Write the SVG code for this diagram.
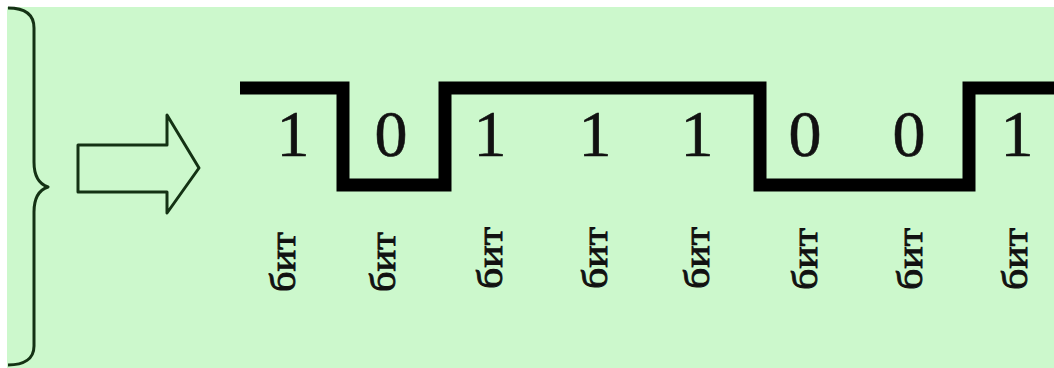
<svg xmlns="http://www.w3.org/2000/svg" width="1054" height="368" viewBox="0 0 1054 368">
<style>
.outline{fill:none;stroke:#143214;stroke-width:3;stroke-linejoin:round}
.signal{fill:none;stroke:#000;stroke-width:13;stroke-linejoin:miter}
.digit{font-family:"Liberation Serif",serif;font-size:66px;fill:#111;stroke:#111;stroke-width:0.6;text-anchor:middle}
.bit{font-family:"Liberation Serif",serif;font-size:36px;fill:#111;stroke:#111;stroke-width:0.9;text-anchor:middle}
</style>
<rect width="1054" height="368" fill="#ffffff"/>
<rect x="7" y="7" width="1047" height="361" fill="#ccf8cc"/>
<g id="brace">
<path class="outline" d="M 8 8 C 24 8 34 14 34 28 L 34 162 C 34 176 39 184 48 187 C 39 190 34 198 34 212 L 34 346 C 34 359 24 365 8 365"/>
</g>
<g id="arrow">
<path class="outline" d="M 78 145 L 167 145 L 167 115 L 199 168 L 167 213 L 167 192 L 78 192 Z"/>
</g>
<g id="signal">
<path class="signal" d="M 240 88 L 343 88 L 343 185 L 445 185 L 445 88 L 760 88 L 760 185 L 969 185 L 969 88 L 1054 88"/>
</g>
<g id="digits">
<text class="digit" x="293" y="156">1</text>
<text class="digit" x="391" y="156">0</text>
<text class="digit" x="490" y="156">1</text>
<text class="digit" x="595" y="156">1</text>
<text class="digit" x="697" y="156">1</text>
<text class="digit" x="805" y="156">0</text>
<text class="digit" x="909" y="156">0</text>
<text class="digit" x="1017" y="156">1</text>
</g>
<g id="labels">
<text class="bit" transform="translate(295 262) rotate(-90)" textLength="60" lengthAdjust="spacingAndGlyphs">бит</text>
<text class="bit" transform="translate(395 262) rotate(-90)" textLength="60" lengthAdjust="spacingAndGlyphs">бит</text>
<text class="bit" transform="translate(502 258) rotate(-90)" textLength="62" lengthAdjust="spacingAndGlyphs">бит</text>
<text class="bit" transform="translate(607 258) rotate(-90)" textLength="62" lengthAdjust="spacingAndGlyphs">бит</text>
<text class="bit" transform="translate(709 258) rotate(-90)" textLength="62" lengthAdjust="spacingAndGlyphs">бит</text>
<text class="bit" transform="translate(817 259) rotate(-90)" textLength="62" lengthAdjust="spacingAndGlyphs">бит</text>
<text class="bit" transform="translate(922 259) rotate(-90)" textLength="62" lengthAdjust="spacingAndGlyphs">бит</text>
<text class="bit" transform="translate(1027 259) rotate(-90)" textLength="62" lengthAdjust="spacingAndGlyphs">бит</text>
</g>
</svg>
